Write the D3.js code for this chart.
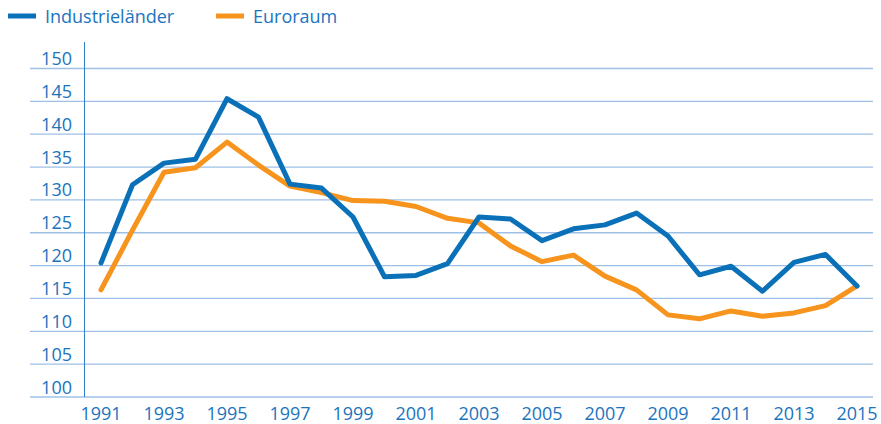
<!DOCTYPE html>
<html><head><meta charset="utf-8">
<script src="https://cdn.jsdelivr.net/npm/d3@7"></script>
<style>html,body{margin:0;padding:0;background:#fff;}svg{display:block;font-family:"Open Sans",sans-serif;}</style>
</head><body>
<svg id="c" width="881" height="424"></svg>
<script>
const years = d3.range(1991, 2016);
const industrielaender = [120.4,132.3,135.6,136.2,145.4,142.6,132.4,131.8,127.4,118.3,118.5,120.3,127.4,127.1,123.8,125.6,126.2,128.0,124.5,118.6,119.9,116.1,120.5,121.7,116.9];
const euroraum = [116.3,125.4,134.2,134.9,138.8,135.3,132.1,131.1,129.9,129.8,129.0,127.2,126.5,123.0,120.6,121.6,118.4,116.3,112.5,111.9,113.1,112.3,112.8,113.9,116.9];
const yTicks = [100,105,110,115,120,125,130,135,140,145,150];
const xTicks = [1991,1993,1995,1997,1999,2001,2003,2005,2007,2009,2011,2013,2015];
const seriesNames = ["Industrieländer","Euroraum"];
const colors = ["#0a70b8","#f7941d"];

const svg = d3.select("#c");
const x = d3.scaleLinear().domain([1991,2015]).range([101,857]);
const y = d3.scaleLinear().domain([100,150]).range([397,68.5]);
const textColor = "#1b74bd";

svg.append("g").selectAll("line").data(yTicks).join("line")
  .attr("x1",30).attr("x2",873)
  .attr("y1",d=>y(d)).attr("y2",d=>y(d))
  .attr("stroke","#9fc0e6").attr("stroke-width",1.3);
svg.append("g").selectAll("text").data(yTicks).join("text")
  .attr("x",72).attr("y",d=>y(d)-3.5)
  .attr("text-anchor","end").attr("fill",textColor).attr("font-size",18)
  .text(d=>d);
svg.append("line").attr("x1",84.5).attr("x2",84.5).attr("y1",42).attr("y2",y(100))
  .attr("stroke","#2f80c8").attr("stroke-width",1);
svg.append("g").selectAll("text").data(xTicks).join("text")
  .attr("x",d=>x(d)).attr("y",420)
  .attr("text-anchor","middle").attr("fill",textColor).attr("font-size",18)
  .text(d=>d);

const line = d3.line().x((d,i)=>x(years[i])).y(d=>y(d));
[euroraum, industrielaender].forEach((s,k)=>{
  const ci = k===0 ? 1 : 0;
  svg.append("path").attr("d",line(s)).attr("fill","none")
    .attr("stroke",colors[ci]).attr("stroke-width",5)
    .attr("stroke-linejoin","round").attr("stroke-linecap","round");
});

const legX = [8,216];
seriesNames.forEach((n,i)=>{
  svg.append("line").attr("x1",legX[i]).attr("x2",legX[i]+28).attr("y1",16).attr("y2",16)
    .attr("stroke",colors[i]).attr("stroke-width",5);
  svg.append("text").attr("x",legX[i]+37).attr("y",23).attr("fill",textColor)
    .attr("font-size",18).text(n);
});
</script>
</body></html>
